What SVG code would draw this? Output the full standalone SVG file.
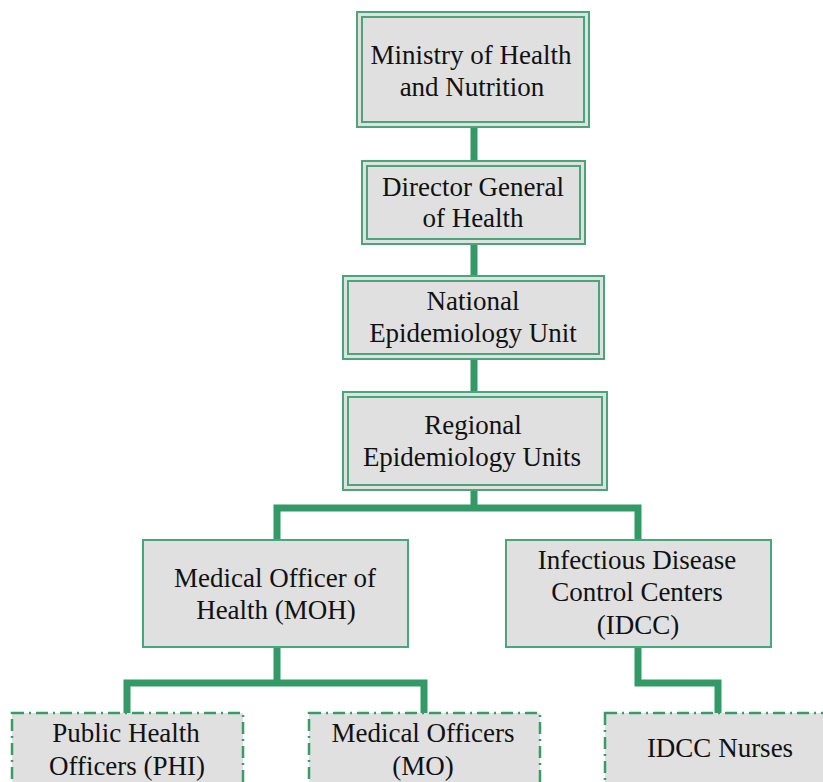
<svg xmlns="http://www.w3.org/2000/svg" width="823" height="782" viewBox="0 0 823 782">
<style>
.box{fill:#e0e0e0;stroke:#4aa57a;stroke-width:2}
.inner{fill:none;stroke:#4aa57a;stroke-width:2}
.dash{fill:#e0e0e0;stroke:#3a9a68;stroke-width:2.5;stroke-dasharray:12 5 2 5}
.conn{fill:none;stroke:#339966;stroke-width:7;stroke-linejoin:miter}
text{font-family:"Liberation Serif","Times New Roman",serif;font-size:27px;fill:#111;text-anchor:middle}
</style>
<rect width="823" height="782" fill="#ffffff"/>
<g id="connectors">
<path class="conn" d="M474 127V161"/>
<path class="conn" d="M474 244V276"/>
<path class="conn" d="M474 359V392"/>
<path class="conn" d="M474 490V508M277 540V508H638V540"/>
<path class="conn" d="M277 647V683M127 713V683H424V713"/>
<path class="conn" d="M638 647V683H718V713"/>
</g>
<g id="ministry">
<rect class="box" x="357" y="12" width="232" height="115"/>
<rect class="inner" x="362" y="17" width="222" height="105"/>
<text x="471" y="64">Ministry of Health</text>
<text x="472" y="96">and Nutrition</text>
</g>
<g id="dgh">
<rect class="box" x="362" y="161" width="223" height="83"/>
<rect class="inner" x="367" y="166" width="213" height="73"/>
<text x="473" y="196">Director General</text>
<text x="473" y="227">of Health</text>
</g>
<g id="neu">
<rect class="box" x="343" y="276" width="261" height="83"/>
<rect class="inner" x="348" y="281" width="251" height="73"/>
<text x="473" y="310">National</text>
<text x="473" y="342">Epidemiology Unit</text>
</g>
<g id="reu">
<rect class="box" x="343" y="392" width="264" height="98"/>
<rect class="inner" x="348" y="397" width="254" height="88"/>
<text x="473" y="434">Regional</text>
<text x="472" y="466">Epidemiology Units</text>
</g>
<g id="moh">
<rect class="box" x="143" y="540" width="265" height="107"/>
<text x="275" y="587">Medical Officer of</text>
<text x="276" y="619">Health (MOH)</text>
</g>
<g id="idcc">
<rect class="box" x="506" y="540" width="265" height="107"/>
<text x="637" y="569">Infectious Disease</text>
<text x="637" y="601">Control Centers</text>
<text x="638" y="634">(IDCC)</text>
</g>
<g id="phi">
<rect class="dash" x="12" y="713" width="231" height="90"/>
<text x="126" y="742">Public Health</text>
<text x="127" y="775">Officers (PHI)</text>
</g>
<g id="mo">
<rect class="dash" x="309" y="713" width="231" height="90"/>
<text x="423" y="742">Medical Officers</text>
<text x="423" y="775">(MO)</text>
</g>
<g id="nurses">
<rect class="dash" x="605" y="713" width="240" height="90"/>
<text x="720" y="757">IDCC Nurses</text>
</g>
</svg>
